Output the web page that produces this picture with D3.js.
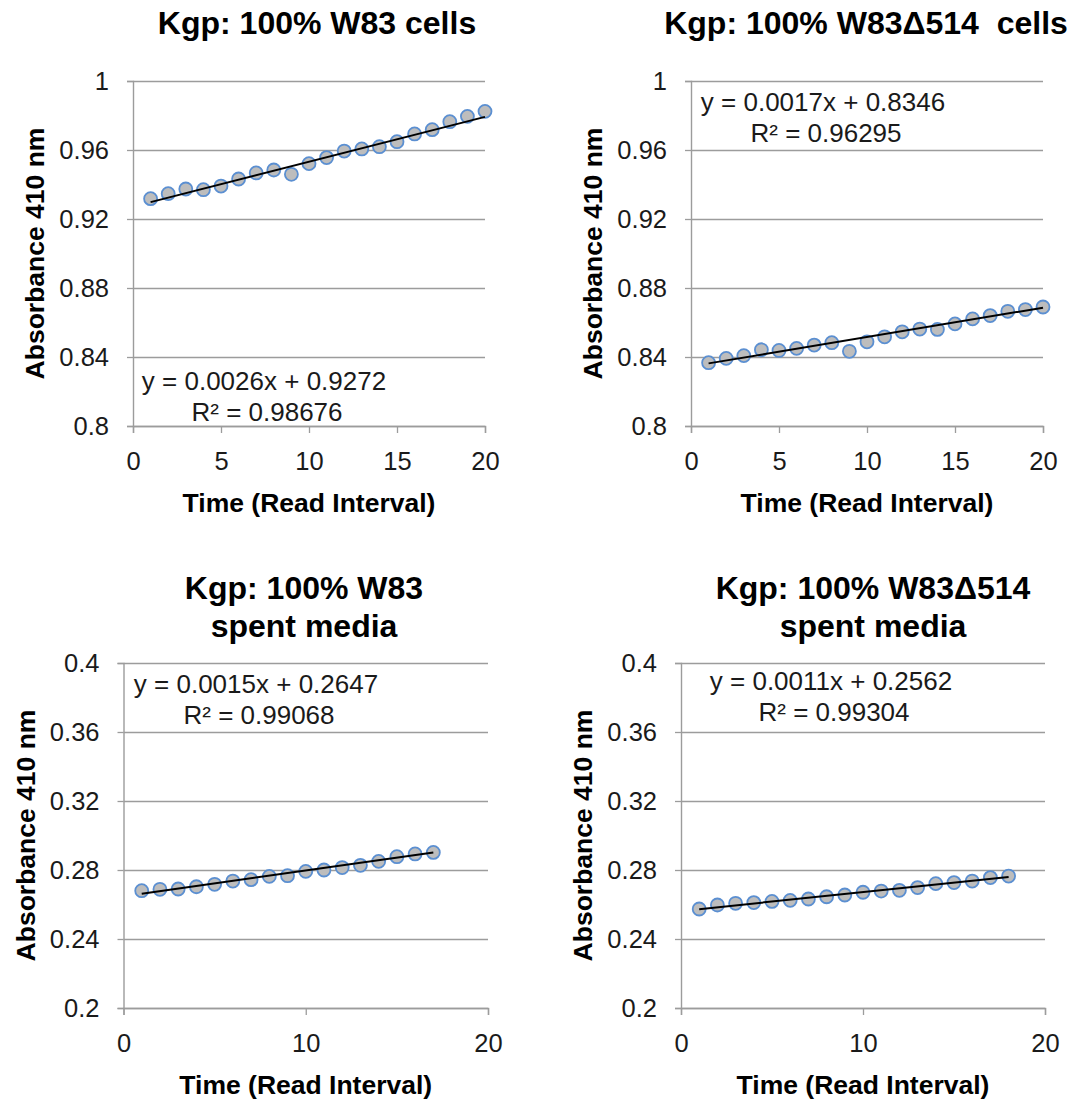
<!DOCTYPE html>
<html>
<head>
<meta charset="utf-8">
<script src="https://cdn.jsdelivr.net/npm/d3@7"></script>
<style>
  body { margin: 0; background: #ffffff; }
  svg { display: block; font-family: "Liberation Sans", Arial, sans-serif; }
</style>
</head>
<body>
<svg id="chart" width="1076" height="1099"></svg>
<script>
/* global d3 */

// read intervals
const readsCells = [1, 2, 3, 4, 5, 6, 7, 8, 9, 10, 11, 12, 13, 14, 15, 16, 17, 18, 19, 20];
const readsW83Media = [1, 2, 3, 4, 5, 6, 7, 8, 9, 10, 11, 12, 13, 14, 15, 16, 17];
const readsMutMedia = [1, 2, 3, 4, 5, 6, 7, 8, 9, 10, 11, 12, 13, 14, 15, 16, 17, 18];

// absorbance 410 nm
const w83Cells = [0.9318, 0.9347, 0.9374, 0.9370, 0.9391, 0.9432, 0.9467, 0.9484, 0.9459, 0.9521,
  0.9556, 0.9594, 0.9606, 0.9619, 0.9648, 0.9693, 0.9718, 0.9764, 0.9795, 0.9824];
const mutCells = [0.8367, 0.8392, 0.8408, 0.8442, 0.8438, 0.8450, 0.8469, 0.8483, 0.8433, 0.8488,
  0.8517, 0.8546, 0.8562, 0.8560, 0.8592, 0.8621, 0.8640, 0.8665, 0.8675, 0.8690];
const w83Media = [0.2680, 0.2688, 0.2690, 0.2703, 0.2717, 0.2736, 0.2744, 0.2763, 0.2767, 0.2792,
  0.2800, 0.2814, 0.2827, 0.2850, 0.2877, 0.2893, 0.2902];
const mutMedia = [0.2574, 0.2597, 0.2607, 0.2611, 0.2618, 0.2624, 0.2632, 0.2645, 0.2655, 0.2671,
  0.2678, 0.2682, 0.2698, 0.2721, 0.2727, 0.2736, 0.2756, 0.2765];

// linear fits: slope, intercept, label lines
const fitW83Cells = [0.0026, 0.9272, 'y = 0.0026x + 0.9272', 'R² = 0.98676'];
const fitMutCells = [0.0017, 0.8346, 'y = 0.0017x + 0.8346', 'R² = 0.96295'];
const fitW83Media = [0.0015, 0.2647, 'y = 0.0015x + 0.2647', 'R² = 0.99068'];
const fitMutMedia = [0.0011, 0.2562, 'y = 0.0011x + 0.2562', 'R² = 0.99304'];

// tick values + labels
const cellsYTicks = [0.8, 0.84, 0.88, 0.92, 0.96, 1];
const cellsYLabels = ['0.8', '0.84', '0.88', '0.92', '0.96', '1'];
const mediaYTicks = [0.2, 0.24, 0.28, 0.32, 0.36, 0.4];
const mediaYLabels = ['0.2', '0.24', '0.28', '0.32', '0.36', '0.4'];
const cellsXTicks = [0, 5, 10, 15, 20];
const mediaXTicks = [0, 10, 20];

const panels = [
  {
    title: ['Kgp: 100% W83 cells'], titleX: 317, titleY: 34,
    left: 133, right: 485, top: 81, bottom: 426,
    yTicks: cellsYTicks, yLabels: cellsYLabels, xTicks: cellsXTicks,
    xs: readsCells, ys: w83Cells, fit: fitW83Cells, eqX: 264, eqY: 390,
  },
  {
    title: ['Kgp: 100% W83Δ514  cells'], titleX: 866, titleY: 34,
    left: 691, right: 1043, top: 81, bottom: 426,
    yTicks: cellsYTicks, yLabels: cellsYLabels, xTicks: cellsXTicks,
    xs: readsCells, ys: mutCells, fit: fitMutCells, eqX: 823, eqY: 111,
  },
  {
    title: ['Kgp: 100% W83', 'spent media'], titleX: 304, titleY: 599,
    left: 123.5, right: 488, top: 663, bottom: 1008,
    yTicks: mediaYTicks, yLabels: mediaYLabels, xTicks: mediaXTicks,
    xs: readsW83Media, ys: w83Media, fit: fitW83Media, eqX: 256, eqY: 693,
  },
  {
    title: ['Kgp: 100% W83Δ514', 'spent media'], titleX: 873, titleY: 599,
    left: 681, right: 1045, top: 663, bottom: 1008,
    yTicks: mediaYTicks, yLabels: mediaYLabels, xTicks: mediaXTicks,
    xs: readsMutMedia, ys: mutMedia, fit: fitMutMedia, eqX: 831, eqY: 690,
  },
];

const svg = d3.select('#chart');
const gridColor = '#9c9c9c';
const textColor = '#1a1a1a';

function drawPanel(p) {
  const g = svg.append('g');
  const x = d3.scaleLinear().domain([0, 20]).range([p.left, p.right]);
  const y = d3.scaleLinear().domain([p.yTicks[0], p.yTicks[p.yTicks.length - 1]]).range([p.bottom, p.top]);
  const w = p.right - p.left;

  // horizontal gridlines with short outside ticks
  const yAxis = g.append('g')
    .attr('transform', `translate(${p.left},0)`)
    .call(d3.axisLeft(y).tickValues(p.yTicks).tickSize(6)
      .tickFormat((d, i) => p.yLabels[i]).tickPadding(18));
  yAxis.select('.domain').attr('stroke', gridColor).attr('stroke-width', 1.4);
  yAxis.selectAll('.tick line').attr('stroke', gridColor).attr('stroke-width', 1.3);
  yAxis.selectAll('.tick text')
    .attr('fill', textColor).style('font-size', '25.5px');
  yAxis.selectAll('.tick').append('line')
    .attr('x1', 0).attr('x2', w)
    .attr('stroke', gridColor).attr('stroke-width', 1.3);

  const xAxis = g.append('g')
    .attr('transform', `translate(0,${p.bottom})`)
    .call(d3.axisBottom(x).tickValues(p.xTicks).tickSize(7).tickPadding(19));
  xAxis.select('.domain').attr('stroke', gridColor).attr('stroke-width', 1.4);
  xAxis.selectAll('.tick line').attr('stroke', gridColor).attr('stroke-width', 1.3);
  xAxis.selectAll('.tick text')
    .attr('fill', textColor).style('font-size', '25.5px');

  // title
  const title = g.append('text')
    .attr('x', p.titleX).attr('y', p.titleY)
    .attr('text-anchor', 'middle')
    .style('font-size', '32px').style('font-weight', 'bold')
    .style('white-space', 'pre')
    .attr('fill', '#000');
  p.title.forEach((line, i) => {
    title.append('tspan').attr('x', p.titleX).attr('dy', i === 0 ? 0 : 38).text(line);
  });

  // axis titles
  g.append('text')
    .attr('x', (p.left + p.right) / 2).attr('y', p.bottom + 86)
    .attr('text-anchor', 'middle')
    .style('font-size', '26.5px').style('font-weight', 'bold')
    .attr('fill', '#000')
    .text('Time (Read Interval)');
  g.append('text')
    .attr('transform', `translate(${p.left - 89},${(p.top + p.bottom) / 2}) rotate(-90)`)
    .attr('text-anchor', 'middle')
    .style('font-size', '26.5px').style('font-weight', 'bold')
    .attr('fill', '#000')
    .text('Absorbance 410 nm');

  // points
  const pts = p.xs.map((d, i) => [d, p.ys[i]]);
  g.append('g').selectAll('circle')
    .data(pts)
    .join('circle')
    .attr('cx', d => x(d[0]))
    .attr('cy', d => y(d[1]))
    .attr('r', 6.5)
    .attr('fill', '#bdbdbd')
    .attr('stroke', '#5b8fd1')
    .attr('stroke-width', 1.8);

  // trendline over the read range
  const x0 = p.xs[0];
  const x1 = p.xs[p.xs.length - 1];
  const slope = p.fit[0];
  const icpt = p.fit[1];
  g.append('path')
    .datum([[x0, slope * x0 + icpt], [x1, slope * x1 + icpt]])
    .attr('d', d3.line().x(d => x(d[0])).y(d => y(d[1])))
    .attr('stroke', '#000').attr('stroke-width', 2).attr('fill', 'none');

  // equation label
  const eq = g.append('text')
    .attr('x', p.eqX).attr('y', p.eqY)
    .attr('text-anchor', 'middle')
    .style('font-size', '26px')
    .attr('fill', textColor);
  eq.append('tspan').attr('x', p.eqX).attr('dy', 0).text(p.fit[2]);
  eq.append('tspan').attr('x', p.eqX + 3).attr('dy', 31).text(p.fit[3]);
}

panels.forEach(drawPanel);
</script>
</body>
</html>
